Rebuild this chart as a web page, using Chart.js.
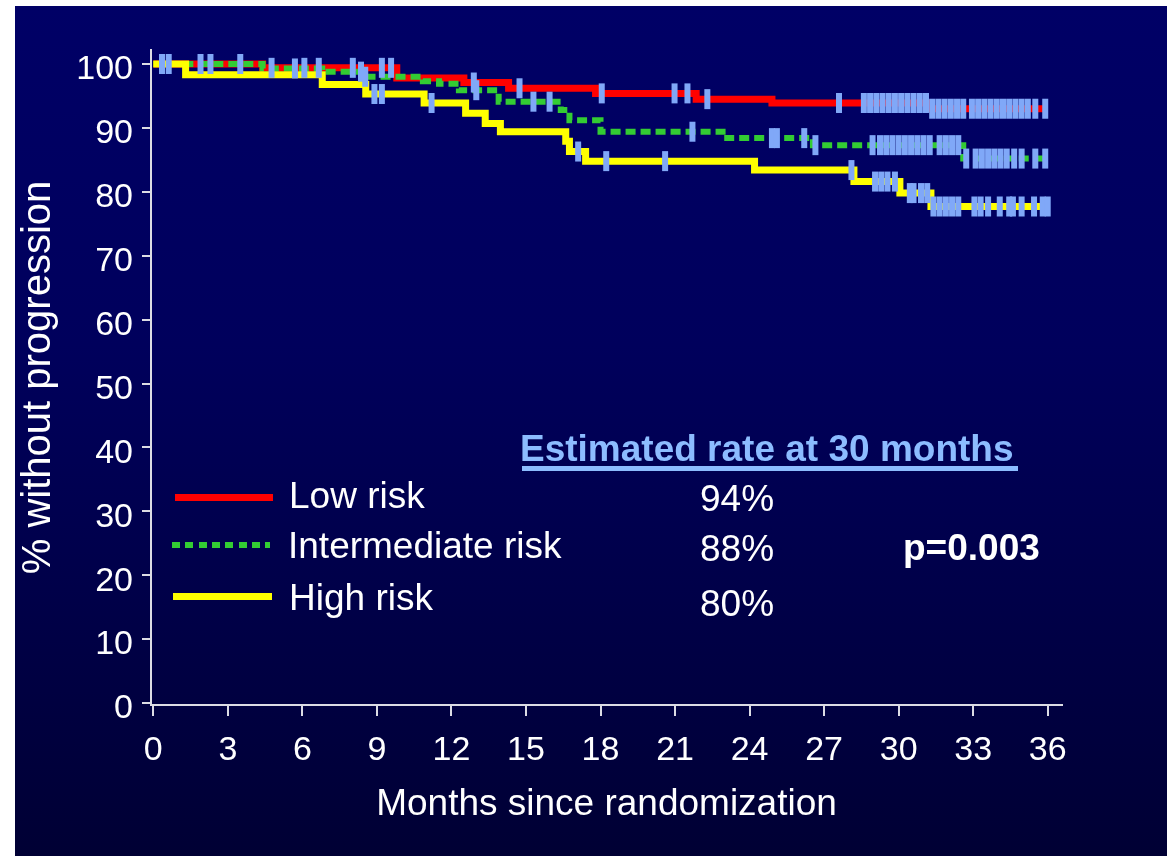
<!DOCTYPE html>
<html><head><meta charset="utf-8">
<script src="https://cdn.jsdelivr.net/npm/chart.js@4.4.1/dist/chart.umd.min.js"></script>
<style>
html,body{margin:0;padding:0;background:#fff;}
#wrap{position:relative;width:1167px;height:856px;overflow:hidden;}
#bg{position:absolute;left:15px;top:6px;width:1152px;height:850px;background:linear-gradient(to bottom,#000066 0%,#00005c 40%,#000034 100%);}
#c{position:absolute;left:0;top:0;}
.t{position:absolute;font-family:"Liberation Sans",Arial,sans-serif;font-size:37px;line-height:37px;color:#fff;white-space:nowrap;}
.b{font-weight:bold;}
.ln{position:absolute;}
</style></head>
<body><div id="wrap"><div id="bg"></div><canvas id="c" width="1167" height="856"></canvas>
<div class="t b" style="left:520px;top:430px;color:#8cbcff;">Estimated rate at 30 months</div>
<div class="ln" style="left:522px;top:466px;width:496px;height:5px;background:#8cbcff;"></div>
<div class="ln" style="left:175px;top:494px;width:98px;height:7px;background:#ff0000;"></div>
<div class="ln" style="left:172px;top:542px;width:98px;height:6px;background:repeating-linear-gradient(to right,#33cc33 0px,#33cc33 8px,transparent 8px,transparent 13.3px);"></div>
<div class="ln" style="left:173px;top:593px;width:99px;height:7px;background:#ffff00;"></div>
<div class="t" style="left:289px;top:477px;">Low risk</div>
<div class="t" style="left:288px;top:527px;">Intermediate risk</div>
<div class="t" style="left:289px;top:579px;">High risk</div>
<div class="t" style="left:700px;top:480px;">94%</div>
<div class="t" style="left:700px;top:530px;">88%</div>
<div class="t" style="left:700px;top:585px;">80%</div>
<div class="t b" style="left:903px;top:529px;">p=0.003</div>
</div>
<script>
// ---- data ----
const xTicks = [0,3,6,9,12,15,18,21,24,27,30,33,36];
const yTicks = [0,10,20,30,40,50,60,70,80,90,100];

const lowTimes = [0, 4.4, 9.8, 12.5, 14.3, 17.8, 21.85, 24.9, 31.25, 36];
const lowSurv  = [100, 99.4, 97.8, 97.1, 96.2, 95.4, 94.5, 93.9, 93.0, 93.0];

const midTimes = [0, 4.4, 6.8, 8.5, 10.85, 11.5, 12.3, 13.9, 16.4, 16.75, 18.0, 23.1, 26.55, 32.6, 36];
const midSurv  = [100, 99.3, 98.8, 98.0, 97.3, 96.9, 95.9, 94.1, 92.8, 91.2, 89.4, 88.4, 87.3, 85.2, 85.2];

const highTimes = [0, 1.3, 6.8, 8.55, 10.9, 12.57, 13.36, 13.97, 16.6, 16.75, 17.4, 24.2, 28.2, 30.05, 31.3, 36];
const highSurv  = [100, 98.3, 96.8, 95.3, 93.9, 92.3, 90.7, 89.4, 87.9, 86.3, 84.8, 83.4, 81.6, 79.8, 77.7, 77.7];

const lowCensor = [0.35, 0.62, 1.9, 2.3, 3.5, 4.76, 6.08, 6.66, 8.03, 9.2, 9.57, 12.9, 14.74, 18.05, 20.98, 21.5, 22.3, 27.6,
  28.6, 28.85, 29.1, 29.35, 29.6, 29.85, 30.1, 30.35, 30.6, 30.85, 31.1, 31.35, 31.6, 31.85, 32.1, 32.35, 32.6,
  32.95, 33.2, 33.45, 33.7, 33.95, 34.2, 34.45, 34.7, 34.95, 35.2, 35.5, 35.9];
const midCensor = [5.7, 8.36, 8.53, 13.0, 15.3, 15.95, 21.7, 24.9, 25.1, 26.2, 26.65, 28.95, 29.25, 29.5, 29.75, 30.0,
  30.25, 30.5, 30.75, 31.0, 31.25, 31.65, 31.9, 32.15, 32.4, 32.72, 33.1, 33.35, 33.6, 33.85, 34.1, 34.35, 34.65, 34.95, 35.5, 35.9];
const highCensor = [8.9, 9.2, 11.2, 17.1, 18.23, 20.6, 28.1, 29.05, 29.3, 29.55, 29.85, 30.45, 30.6, 30.9, 31.15, 31.4,
  31.65, 31.9, 32.15, 32.4, 33.05, 33.3, 33.6, 34.07, 34.45, 34.6, 34.95, 35.45, 35.8, 36.0];

// ---- helpers ----
function curve(times, surv){ return times.map((t,i)=>({x:t,y:surv[i]})); }
function survAt(times, surv, t){ let v = surv[0]; for(let i=0;i<times.length;i++){ if(times[i] <= t) v = surv[i]; } return v; }
function censor(ct, times, surv){ return ct.map(t=>({x:t, y:survAt(times, surv, t)})); }

const FONT = '"Liberation Sans", Arial, sans-serif';
const CENSOR = '#80a8f8';
const AXIS = '#dcdce4';

function lineDs(label, data, color, width, dash, order){
  return {label, data, showLine:true, stepped:'before', borderColor:color, backgroundColor:color,
    borderWidth:width, borderDash:dash, pointRadius:0, fill:false, order};
}
function censorDs(data){
  return {data, showLine:false, pointStyle:'line', pointRotation:90, pointRadius:10,
    pointBorderWidth:6, pointBorderColor:CENSOR, pointBackgroundColor:CENSOR, order:0};
}

new Chart(document.getElementById('c'), {
  type:'scatter',
  data:{datasets:[
    lineDs('Low risk', curve(lowTimes, lowSurv), '#ff0000', 7, [], 3),
    lineDs('Intermediate risk', curve(midTimes, midSurv), '#33cc33', 6, [10,5], 2),
    lineDs('High risk', curve(highTimes, highSurv), '#ffff00', 7, [], 1),
    censorDs(censor(lowCensor, lowTimes, lowSurv)),
    censorDs(censor(midCensor, midTimes, midSurv)),
    censorDs(censor(highCensor, highTimes, highSurv))
  ]},
  options:{
    responsive:false, animation:false, events:[],
    layout:{padding:{top:50, right:105, bottom:0, left:0}},
    plugins:{legend:{display:false}, tooltip:{enabled:false}},
    scales:{
      x:{type:'linear', min:-0.093, max:36.575,
        afterBuildTicks:s=>{s.ticks = xTicks.map(v=>({value:v}));},
        afterFit:s=>{s.height = 151;},
        grid:{drawOnChartArea:false, drawTicks:true, tickLength:11, color:AXIS, lineWidth:2},
        border:{display:true, color:AXIS, width:2},
        ticks:{color:'#ffffff', font:{family:FONT, size:34}, padding:14, maxRotation:0, autoSkip:false},
        title:{display:true, text:'Months since randomization', color:'#ffffff',
          font:{family:FONT, size:37, lineHeight:1}, padding:{top:0, bottom:33}}
      },
      y:{type:'linear', min:-0.31, max:102.19,
        afterBuildTicks:s=>{s.ticks = yTicks.map(v=>({value:v}));},
        afterFit:s=>{s.width = 151;},
        grid:{drawOnChartArea:false, drawTicks:true, tickLength:9, color:AXIS, lineWidth:2},
        border:{display:true, color:AXIS, width:2},
        ticks:{color:'#ffffff', font:{family:FONT, size:34}, padding:9, labelOffset:6, autoSkip:false},
        title:{display:true, text:'% without progression', color:'#ffffff',
          font:{family:FONT, size:40, lineHeight:1}, padding:{top:19, bottom:0}}
      }
    }
  }
});
</script>
</body></html>
